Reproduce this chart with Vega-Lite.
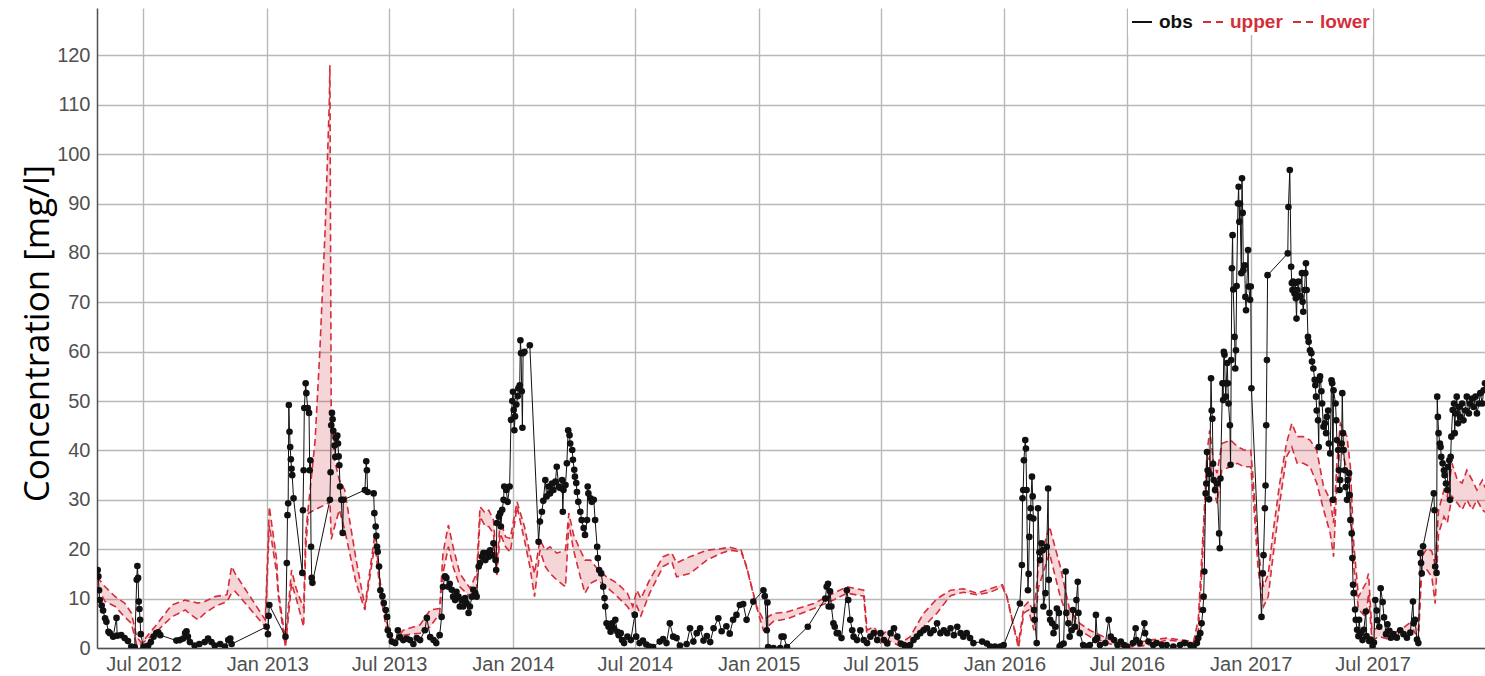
{
  "$schema": "https://vega.github.io/schema/vega-lite/v6.json",
  "width": 1388,
  "height": 640,
  "autosize": {"type": "none"},
  "padding": {"left": 97, "top": 8, "right": 0, "bottom": 28},
  "background": "white",
  "config": {"view": {"stroke": null}, "font": "Liberation Sans"},
  "datasets": {
    "obs": [
      {"date":"2012-04-24","obs":15.8},{"date":"2012-04-25","obs":14.5},{"date":"2012-04-26","obs":11.7},{"date":"2012-04-27","obs":9.7},{"date":"2012-04-30","obs":8.6},
      {"date":"2012-05-02","obs":7.6},{"date":"2012-05-05","obs":6},{"date":"2012-05-07","obs":5.3},{"date":"2012-05-10","obs":3.3},{"date":"2012-05-12","obs":3},
      {"date":"2012-05-17","obs":2.3},{"date":"2012-05-22","obs":6.1},{"date":"2012-05-23","obs":2.5},{"date":"2012-05-29","obs":2.6},{"date":"2012-06-03","obs":2},
      {"date":"2012-06-08","obs":1.4},{"date":"2012-06-13","obs":0.3},{"date":"2012-06-18","obs":0.2},{"date":"2012-06-21","obs":13.8},{"date":"2012-06-22","obs":16.6},
      {"date":"2012-06-23","obs":14.2},{"date":"2012-06-24","obs":9.4},{"date":"2012-06-25","obs":7.9},{"date":"2012-06-26","obs":5.7},{"date":"2012-06-27","obs":2.8},
      {"date":"2012-07-01","obs":0.2},{"date":"2012-07-04","obs":0.3},{"date":"2012-07-08","obs":0.5},{"date":"2012-07-12","obs":1.2},{"date":"2012-07-16","obs":2.3},
      {"date":"2012-07-20","obs":3},{"date":"2012-07-23","obs":3.2},{"date":"2012-07-26","obs":2.6},{"date":"2012-08-19","obs":1.5},{"date":"2012-08-24","obs":1.6},
      {"date":"2012-08-29","obs":1.9},{"date":"2012-09-01","obs":3},{"date":"2012-09-03","obs":3.4},{"date":"2012-09-05","obs":2.3},{"date":"2012-09-08","obs":1.2},
      {"date":"2012-09-15","obs":0.5},{"date":"2012-09-22","obs":0.8},{"date":"2012-09-30","obs":1.2},{"date":"2012-10-05","obs":1.9},{"date":"2012-10-10","obs":1.2},
      {"date":"2012-10-15","obs":0.5},{"date":"2012-10-23","obs":0.8},{"date":"2012-10-30","obs":0.3},{"date":"2012-11-04","obs":1.6},{"date":"2012-11-07","obs":1.9},
      {"date":"2012-11-09","obs":0.8},{"date":"2012-12-31","obs":4.3},{"date":"2013-01-02","obs":2.8},{"date":"2013-01-03","obs":6.5},{"date":"2013-01-04","obs":8.7},
      {"date":"2013-01-28","obs":2.3},{"date":"2013-01-30","obs":17.2},{"date":"2013-01-31","obs":26.9},{"date":"2013-02-01","obs":29.3},{"date":"2013-02-02","obs":49.2},
      {"date":"2013-02-03","obs":43.8},{"date":"2013-02-04","obs":40.7},{"date":"2013-02-05","obs":38.2},{"date":"2013-02-06","obs":36.3},{"date":"2013-02-07","obs":35},
      {"date":"2013-02-09","obs":30.3},{"date":"2013-02-22","obs":15.2},{"date":"2013-02-23","obs":27.9},{"date":"2013-02-24","obs":36},{"date":"2013-02-25","obs":48.6},
      {"date":"2013-02-27","obs":53.6},{"date":"2013-02-28","obs":51.6},{"date":"2013-03-02","obs":48.6},{"date":"2013-03-04","obs":47.6},{"date":"2013-03-05","obs":36},
      {"date":"2013-03-06","obs":38},{"date":"2013-03-07","obs":20.5},{"date":"2013-03-08","obs":14.2},{"date":"2013-03-09","obs":13.2},{"date":"2013-04-04","obs":30},
      {"date":"2013-04-05","obs":35.6},{"date":"2013-04-06","obs":45.1},{"date":"2013-04-07","obs":47.6},{"date":"2013-04-08","obs":46.3},{"date":"2013-04-09","obs":44},
      {"date":"2013-04-11","obs":41},{"date":"2013-04-12","obs":38.7},{"date":"2013-04-13","obs":42.5},{"date":"2013-04-15","obs":43},{"date":"2013-04-16","obs":41.4},
      {"date":"2013-04-17","obs":38.8},{"date":"2013-04-18","obs":37},{"date":"2013-04-19","obs":32.7},{"date":"2013-04-21","obs":30},{"date":"2013-04-23","obs":23.3},
      {"date":"2013-04-24","obs":30},{"date":"2013-05-26","obs":32},{"date":"2013-05-28","obs":37.8},{"date":"2013-05-29","obs":36},{"date":"2013-05-30","obs":31.6},
      {"date":"2013-06-08","obs":31.3},{"date":"2013-06-09","obs":27.3},{"date":"2013-06-11","obs":24.6},{"date":"2013-06-12","obs":22.7},{"date":"2013-06-13","obs":20.5},
      {"date":"2013-06-14","obs":19.5},{"date":"2013-06-16","obs":16.5},{"date":"2013-06-18","obs":11.7},{"date":"2013-06-21","obs":10.5},{"date":"2013-06-23","obs":9.1},
      {"date":"2013-06-26","obs":7.7},{"date":"2013-06-28","obs":6.3},{"date":"2013-06-29","obs":3.6},{"date":"2013-07-02","obs":2.6},{"date":"2013-07-05","obs":1.3},
      {"date":"2013-07-10","obs":1},{"date":"2013-07-14","obs":3.6},{"date":"2013-07-17","obs":2.2},{"date":"2013-07-22","obs":1.6},{"date":"2013-07-27","obs":1.9},
      {"date":"2013-08-01","obs":1.6},{"date":"2013-08-06","obs":0.8},{"date":"2013-08-11","obs":2},{"date":"2013-08-16","obs":1.6},{"date":"2013-08-23","obs":3.6},
      {"date":"2013-08-26","obs":6.1},{"date":"2013-08-31","obs":2.2},{"date":"2013-09-05","obs":1.6},{"date":"2013-09-09","obs":1},{"date":"2013-09-14","obs":2.6},
      {"date":"2013-09-17","obs":6.3},{"date":"2013-09-19","obs":12.4},{"date":"2013-09-22","obs":14.5},{"date":"2013-09-24","obs":14.2},{"date":"2013-09-27","obs":12.4},
      {"date":"2013-09-29","obs":13},{"date":"2013-10-02","obs":11.8},{"date":"2013-10-04","obs":10.4},{"date":"2013-10-07","obs":9.7},{"date":"2013-10-09","obs":11.4},
      {"date":"2013-10-12","obs":10.4},{"date":"2013-10-14","obs":8.4},{"date":"2013-10-17","obs":9.7},{"date":"2013-10-19","obs":8.4},{"date":"2013-10-22","obs":10.1},
      {"date":"2013-10-24","obs":9.1},{"date":"2013-10-27","obs":7.1},{"date":"2013-10-29","obs":8.4},{"date":"2013-11-01","obs":10.4},{"date":"2013-11-03","obs":11.8},
      {"date":"2013-11-06","obs":11.1},{"date":"2013-11-08","obs":10.4},{"date":"2013-11-11","obs":16.5},{"date":"2013-11-13","obs":17.2},{"date":"2013-11-16","obs":18.5},
      {"date":"2013-11-18","obs":19.2},{"date":"2013-11-21","obs":17.8},{"date":"2013-11-23","obs":19.2},{"date":"2013-11-26","obs":18.5},{"date":"2013-11-28","obs":19.8},
      {"date":"2013-12-01","obs":18.8},{"date":"2013-12-03","obs":21.2},{"date":"2013-12-06","obs":17.8},{"date":"2013-12-07","obs":15.8},{"date":"2013-12-08","obs":25.3},
      {"date":"2013-12-11","obs":26.6},{"date":"2013-12-13","obs":27.3},{"date":"2013-12-14","obs":24.6},{"date":"2013-12-16","obs":28},{"date":"2013-12-18","obs":30},
      {"date":"2013-12-19","obs":32.7},{"date":"2013-12-22","obs":32},{"date":"2013-12-24","obs":29.6},{"date":"2013-12-27","obs":32.7},{"date":"2013-12-29","obs":46.2},
      {"date":"2013-12-31","obs":50},{"date":"2014-01-01","obs":51.9},{"date":"2014-01-02","obs":48.2},{"date":"2014-01-03","obs":44.1},{"date":"2014-01-04","obs":46.9},
      {"date":"2014-01-06","obs":49.3},{"date":"2014-01-08","obs":51},{"date":"2014-01-09","obs":52.6},{"date":"2014-01-11","obs":53.2},{"date":"2014-01-12","obs":62.3},
      {"date":"2014-01-13","obs":59.7},{"date":"2014-01-14","obs":52},{"date":"2014-01-15","obs":44.6},{"date":"2014-01-16","obs":59.7},{"date":"2014-01-18","obs":60},
      {"date":"2014-01-26","obs":61.3},{"date":"2014-02-08","obs":21.5},{"date":"2014-02-10","obs":25.6},{"date":"2014-02-13","obs":27.6},{"date":"2014-02-15","obs":29.8},
      {"date":"2014-02-18","obs":34},{"date":"2014-02-20","obs":30.7},{"date":"2014-02-23","obs":32.7},{"date":"2014-02-25","obs":31.3},{"date":"2014-02-28","obs":33.3},
      {"date":"2014-03-02","obs":32},{"date":"2014-03-05","obs":33.7},{"date":"2014-03-07","obs":36.7},{"date":"2014-03-10","obs":32.7},{"date":"2014-03-12","obs":32.4},
      {"date":"2014-03-15","obs":34},{"date":"2014-03-16","obs":27.6},{"date":"2014-03-17","obs":32},{"date":"2014-03-20","obs":33},{"date":"2014-03-22","obs":37.4},
      {"date":"2014-03-24","obs":44.1},{"date":"2014-03-26","obs":43.1},{"date":"2014-03-27","obs":41.4},{"date":"2014-03-30","obs":40.1},{"date":"2014-03-31","obs":38.1},
      {"date":"2014-04-02","obs":36.1},{"date":"2014-04-03","obs":34.7},{"date":"2014-04-05","obs":33.4},{"date":"2014-04-06","obs":31.6},{"date":"2014-04-08","obs":29.6},
      {"date":"2014-04-11","obs":27.6},{"date":"2014-04-13","obs":25.9},{"date":"2014-04-16","obs":24.3},{"date":"2014-04-18","obs":22.9},{"date":"2014-04-21","obs":25.9},
      {"date":"2014-04-22","obs":32.7},{"date":"2014-04-23","obs":31.3},{"date":"2014-04-26","obs":30.3},{"date":"2014-04-28","obs":29.6},{"date":"2014-05-01","obs":30},
      {"date":"2014-05-03","obs":25.9},{"date":"2014-05-06","obs":20.5},{"date":"2014-05-07","obs":18.2},{"date":"2014-05-09","obs":15.8},{"date":"2014-05-12","obs":15.1},
      {"date":"2014-05-15","obs":12.4},{"date":"2014-05-17","obs":10.1},{"date":"2014-05-18","obs":8.4},{"date":"2014-05-20","obs":5},{"date":"2014-05-23","obs":4.3},
      {"date":"2014-05-26","obs":3.3},{"date":"2014-05-28","obs":5},{"date":"2014-05-31","obs":4},{"date":"2014-06-02","obs":5.7},{"date":"2014-06-05","obs":3.3},
      {"date":"2014-06-07","obs":2.6},{"date":"2014-06-10","obs":3},{"date":"2014-06-12","obs":1.6},{"date":"2014-06-15","obs":1},{"date":"2014-06-20","obs":2.3},
      {"date":"2014-06-25","obs":1.6},{"date":"2014-07-01","obs":6.7},{"date":"2014-07-03","obs":2.3},{"date":"2014-07-08","obs":1},{"date":"2014-07-13","obs":1.5},
      {"date":"2014-07-18","obs":0.7},{"date":"2014-07-23","obs":0.3},{"date":"2014-07-28","obs":0.2},{"date":"2014-08-07","obs":1.3},{"date":"2014-08-12","obs":1.8},
      {"date":"2014-08-17","obs":1},{"date":"2014-08-22","obs":5},{"date":"2014-08-27","obs":2.3},{"date":"2014-09-01","obs":2},{"date":"2014-09-06","obs":0.5},
      {"date":"2014-09-16","obs":0.8},{"date":"2014-09-21","obs":4},{"date":"2014-09-26","obs":1.3},{"date":"2014-10-01","obs":3},{"date":"2014-10-06","obs":4},
      {"date":"2014-10-11","obs":1.5},{"date":"2014-10-16","obs":2.4},{"date":"2014-10-21","obs":1.2},{"date":"2014-10-26","obs":4},{"date":"2014-11-02","obs":6},
      {"date":"2014-11-07","obs":3.4},{"date":"2014-11-14","obs":4.4},{"date":"2014-11-19","obs":2.9},{"date":"2014-11-24","obs":5.7},{"date":"2014-11-29","obs":6.7},
      {"date":"2014-12-04","obs":8.7},{"date":"2014-12-09","obs":8.9},{"date":"2014-12-14","obs":5.7},{"date":"2014-12-24","obs":9.4},{"date":"2015-01-08","obs":11.7},
      {"date":"2015-01-10","obs":10.5},{"date":"2015-01-13","obs":3.6},{"date":"2015-01-14","obs":9.2},{"date":"2015-01-15","obs":0.2},{"date":"2015-01-23","obs":0},
      {"date":"2015-02-02","obs":0},{"date":"2015-02-04","obs":2.3},{"date":"2015-02-07","obs":2.3},{"date":"2015-02-12","obs":0.2},{"date":"2015-03-15","obs":4.3},
      {"date":"2015-04-10","obs":10},{"date":"2015-04-12","obs":12.4},{"date":"2015-04-14","obs":13},{"date":"2015-04-15","obs":8.4},{"date":"2015-04-17","obs":11.5},
      {"date":"2015-04-19","obs":8.4},{"date":"2015-04-22","obs":5},{"date":"2015-04-24","obs":4.3},{"date":"2015-04-27","obs":3},{"date":"2015-04-29","obs":3},
      {"date":"2015-05-04","obs":2},{"date":"2015-05-12","obs":11.7},{"date":"2015-05-14","obs":9.7},{"date":"2015-05-17","obs":5.7},{"date":"2015-05-20","obs":3.6},
      {"date":"2015-05-22","obs":2.3},{"date":"2015-05-27","obs":1.6},{"date":"2015-06-01","obs":3.6},{"date":"2015-06-06","obs":1.6},{"date":"2015-06-11","obs":1},
      {"date":"2015-06-16","obs":2.3},{"date":"2015-06-21","obs":3},{"date":"2015-06-26","obs":1.6},{"date":"2015-07-01","obs":3},{"date":"2015-07-06","obs":1.6},
      {"date":"2015-07-11","obs":0.9},{"date":"2015-07-16","obs":3},{"date":"2015-07-21","obs":4},{"date":"2015-07-26","obs":2.3},{"date":"2015-07-31","obs":0.9},
      {"date":"2015-08-05","obs":0.6},{"date":"2015-08-09","obs":0.3},{"date":"2015-08-14","obs":0.6},{"date":"2015-08-19","obs":1.6},{"date":"2015-08-24","obs":2.3},
      {"date":"2015-08-29","obs":3},{"date":"2015-09-03","obs":3.6},{"date":"2015-09-08","obs":4},{"date":"2015-09-13","obs":3},{"date":"2015-09-18","obs":3.6},
      {"date":"2015-09-23","obs":5},{"date":"2015-09-28","obs":3},{"date":"2015-10-03","obs":3.6},{"date":"2015-10-08","obs":3},{"date":"2015-10-13","obs":4},
      {"date":"2015-10-18","obs":2.6},{"date":"2015-10-23","obs":4.3},{"date":"2015-10-28","obs":3},{"date":"2015-11-01","obs":2.3},{"date":"2015-11-06","obs":3},
      {"date":"2015-11-11","obs":2},{"date":"2015-11-16","obs":1},{"date":"2015-11-29","obs":1.3},{"date":"2015-12-06","obs":0.9},{"date":"2015-12-11","obs":0.3},
      {"date":"2015-12-18","obs":0.3},{"date":"2015-12-26","obs":0.3},{"date":"2015-12-31","obs":0.6},{"date":"2016-01-24","obs":9},{"date":"2016-01-27","obs":16.8},
      {"date":"2016-01-28","obs":30.3},{"date":"2016-01-29","obs":32},{"date":"2016-01-30","obs":38},{"date":"2016-02-01","obs":42.1},{"date":"2016-02-02","obs":40.4},
      {"date":"2016-02-03","obs":32},{"date":"2016-02-05","obs":11.7},{"date":"2016-02-06","obs":15},{"date":"2016-02-07","obs":22.5},{"date":"2016-02-08","obs":26.5},
      {"date":"2016-02-09","obs":28.3},{"date":"2016-02-11","obs":34.7},{"date":"2016-02-12","obs":30.7},{"date":"2016-02-13","obs":26.2},{"date":"2016-02-14","obs":7.7},
      {"date":"2016-02-15","obs":5.7},{"date":"2016-02-18","obs":1},{"date":"2016-02-20","obs":28.3},{"date":"2016-02-22","obs":19.4},{"date":"2016-02-23","obs":17.8},
      {"date":"2016-02-25","obs":21.2},{"date":"2016-02-27","obs":19.8},{"date":"2016-02-28","obs":8.4},{"date":"2016-03-02","obs":11.1},{"date":"2016-03-04","obs":20.5},
      {"date":"2016-03-06","obs":32.3},{"date":"2016-03-07","obs":13.8},{"date":"2016-03-08","obs":7.1},{"date":"2016-03-09","obs":5.7},{"date":"2016-03-12","obs":5},
      {"date":"2016-03-14","obs":3},{"date":"2016-03-17","obs":4.3},{"date":"2016-03-19","obs":8},{"date":"2016-03-22","obs":7.1},{"date":"2016-03-23","obs":0.3},
      {"date":"2016-03-25","obs":0.6},{"date":"2016-03-29","obs":0.9},{"date":"2016-04-01","obs":15.5},{"date":"2016-04-02","obs":7.1},{"date":"2016-04-05","obs":5},
      {"date":"2016-04-07","obs":2.3},{"date":"2016-04-10","obs":3.6},{"date":"2016-04-12","obs":7.7},{"date":"2016-04-15","obs":4.3},{"date":"2016-04-17","obs":9.7},
      {"date":"2016-04-19","obs":13.4},{"date":"2016-04-20","obs":7.1},{"date":"2016-04-22","obs":3},{"date":"2016-04-27","obs":0.6},{"date":"2016-05-02","obs":0.3},
      {"date":"2016-05-07","obs":0.6},{"date":"2016-05-15","obs":1.6},{"date":"2016-05-16","obs":6.7},{"date":"2016-05-18","obs":2},{"date":"2016-05-22","obs":0.6},
      {"date":"2016-05-30","obs":1},{"date":"2016-06-04","obs":5.7},{"date":"2016-06-07","obs":2.3},{"date":"2016-06-12","obs":1.6},{"date":"2016-06-17","obs":0.6},
      {"date":"2016-06-22","obs":1.3},{"date":"2016-06-27","obs":0.6},{"date":"2016-07-01","obs":0.3},{"date":"2016-07-10","obs":1},{"date":"2016-07-14","obs":4},
      {"date":"2016-07-15","obs":1.6},{"date":"2016-07-20","obs":1},{"date":"2016-07-27","obs":5},{"date":"2016-07-28","obs":3},{"date":"2016-08-02","obs":1.3},
      {"date":"2016-08-09","obs":0.6},{"date":"2016-08-14","obs":1},{"date":"2016-08-22","obs":0.6},{"date":"2016-08-29","obs":0.6},{"date":"2016-09-08","obs":0.3},
      {"date":"2016-09-18","obs":0.6},{"date":"2016-09-25","obs":1},{"date":"2016-10-03","obs":0.6},{"date":"2016-10-08","obs":0.3},{"date":"2016-10-13","obs":1},
      {"date":"2016-10-15","obs":2},{"date":"2016-10-18","obs":3},{"date":"2016-10-20","obs":5},{"date":"2016-10-22","obs":7.7},{"date":"2016-10-23","obs":10.4},
      {"date":"2016-10-24","obs":15.5},{"date":"2016-10-26","obs":31.3},{"date":"2016-10-27","obs":33.3},{"date":"2016-10-28","obs":39.7},{"date":"2016-10-29","obs":36},
      {"date":"2016-10-31","obs":30.1},{"date":"2016-11-01","obs":35.2},{"date":"2016-11-03","obs":54.6},{"date":"2016-11-04","obs":48.1},{"date":"2016-11-05","obs":46.4},
      {"date":"2016-11-06","obs":37.3},{"date":"2016-11-07","obs":34},{"date":"2016-11-09","obs":32},{"date":"2016-11-12","obs":33.3},{"date":"2016-11-15","obs":23.2},
      {"date":"2016-11-16","obs":20.2},{"date":"2016-11-17","obs":34.3},{"date":"2016-11-20","obs":53.6},{"date":"2016-11-21","obs":50.2},{"date":"2016-11-22","obs":60},
      {"date":"2016-11-23","obs":59.4},{"date":"2016-11-24","obs":53.6},{"date":"2016-11-25","obs":50.9},{"date":"2016-11-27","obs":57.7},{"date":"2016-11-28","obs":53.6},
      {"date":"2016-11-29","obs":49.5},{"date":"2016-12-01","obs":45.1},{"date":"2016-12-02","obs":37.1},{"date":"2016-12-03","obs":58.3},{"date":"2016-12-04","obs":76.9},
      {"date":"2016-12-05","obs":83.6},{"date":"2016-12-06","obs":72.6},{"date":"2016-12-08","obs":63},{"date":"2016-12-09","obs":56.6},{"date":"2016-12-10","obs":60.3},
      {"date":"2016-12-11","obs":73.3},{"date":"2016-12-13","obs":90},{"date":"2016-12-14","obs":93.4},{"date":"2016-12-15","obs":86.3},{"date":"2016-12-16","obs":90},
      {"date":"2016-12-18","obs":75.9},{"date":"2016-12-19","obs":95.1},{"date":"2016-12-20","obs":88.1},{"date":"2016-12-21","obs":76.5},{"date":"2016-12-23","obs":77.5},
      {"date":"2016-12-24","obs":71.1},{"date":"2016-12-25","obs":68.4},{"date":"2016-12-28","obs":80.6},{"date":"2016-12-29","obs":73.2},{"date":"2016-12-31","obs":70.5},
      {"date":"2017-01-01","obs":73.2},{"date":"2017-01-02","obs":52.6},{"date":"2017-01-17","obs":6.3},{"date":"2017-01-19","obs":15.1},{"date":"2017-01-20","obs":18.8},
      {"date":"2017-01-22","obs":28.3},{"date":"2017-01-23","obs":32.9},{"date":"2017-01-24","obs":45.1},{"date":"2017-01-25","obs":58.3},{"date":"2017-01-26","obs":75.5},
      {"date":"2017-02-25","obs":79.9},{"date":"2017-02-26","obs":89.3},{"date":"2017-02-28","obs":96.8},{"date":"2017-03-02","obs":77.2},{"date":"2017-03-03","obs":73.9},
      {"date":"2017-03-04","obs":72.5},{"date":"2017-03-05","obs":74.2},{"date":"2017-03-07","obs":71.8},{"date":"2017-03-08","obs":73.9},{"date":"2017-03-09","obs":70.8},
      {"date":"2017-03-10","obs":66.7},{"date":"2017-03-11","obs":72.5},{"date":"2017-03-13","obs":74.2},{"date":"2017-03-14","obs":71.2},{"date":"2017-03-16","obs":71.2},
      {"date":"2017-03-18","obs":75.9},{"date":"2017-03-19","obs":70.1},{"date":"2017-03-20","obs":68.1},{"date":"2017-03-22","obs":72.5},{"date":"2017-03-23","obs":75.9},
      {"date":"2017-03-24","obs":77.9},{"date":"2017-03-25","obs":72.5},{"date":"2017-03-27","obs":63},{"date":"2017-03-28","obs":62},{"date":"2017-03-30","obs":60.3},
      {"date":"2017-04-01","obs":59.7},{"date":"2017-04-02","obs":58},{"date":"2017-04-04","obs":56.6},{"date":"2017-04-06","obs":54.3},{"date":"2017-04-07","obs":53.2},
      {"date":"2017-04-08","obs":50.9},{"date":"2017-04-09","obs":48.1},{"date":"2017-04-11","obs":46.1},{"date":"2017-04-12","obs":40.7},{"date":"2017-04-13","obs":54.2},
      {"date":"2017-04-14","obs":55},{"date":"2017-04-16","obs":52},{"date":"2017-04-17","obs":49.5},{"date":"2017-04-19","obs":44.8},{"date":"2017-04-21","obs":45.5},
      {"date":"2017-04-23","obs":43.5},{"date":"2017-04-24","obs":46.8},{"date":"2017-04-26","obs":48.1},{"date":"2017-04-27","obs":41.4},{"date":"2017-04-29","obs":39.4},
      {"date":"2017-05-01","obs":54.2},{"date":"2017-05-02","obs":53.6},{"date":"2017-05-03","obs":30},{"date":"2017-05-04","obs":52.2},{"date":"2017-05-07","obs":49.5},
      {"date":"2017-05-08","obs":46.1},{"date":"2017-05-09","obs":42.1},{"date":"2017-05-11","obs":40.1},{"date":"2017-05-12","obs":36},{"date":"2017-05-13","obs":32},
      {"date":"2017-05-14","obs":34},{"date":"2017-05-16","obs":41.4},{"date":"2017-05-17","obs":51.6},{"date":"2017-05-18","obs":43.5},{"date":"2017-05-19","obs":40.1},
      {"date":"2017-05-21","obs":36},{"date":"2017-05-22","obs":32.6},{"date":"2017-05-24","obs":30},{"date":"2017-05-25","obs":34},{"date":"2017-05-27","obs":35.4},
      {"date":"2017-05-28","obs":31},{"date":"2017-05-29","obs":25.9},{"date":"2017-05-31","obs":23.2},{"date":"2017-06-01","obs":18.2},{"date":"2017-06-02","obs":12.8},
      {"date":"2017-06-03","obs":11.1},{"date":"2017-06-05","obs":7.8},{"date":"2017-06-06","obs":5.7},{"date":"2017-06-08","obs":3.7},{"date":"2017-06-10","obs":2.4},
      {"date":"2017-06-11","obs":5.7},{"date":"2017-06-13","obs":3},{"date":"2017-06-16","obs":1.6},{"date":"2017-06-18","obs":3.7},{"date":"2017-06-21","obs":7.4},
      {"date":"2017-06-22","obs":2.4},{"date":"2017-06-26","obs":1.4},{"date":"2017-06-28","obs":1.7},{"date":"2017-07-01","obs":0.4},{"date":"2017-07-03","obs":1.1},
      {"date":"2017-07-05","obs":9.7},{"date":"2017-07-07","obs":7.6},{"date":"2017-07-08","obs":5.6},{"date":"2017-07-11","obs":4.3},{"date":"2017-07-13","obs":12.1},
      {"date":"2017-07-16","obs":9.3},{"date":"2017-07-18","obs":6.2},{"date":"2017-07-21","obs":2.8},{"date":"2017-07-23","obs":4.8},{"date":"2017-07-26","obs":3.5},
      {"date":"2017-07-28","obs":2.1},{"date":"2017-08-01","obs":2.8},{"date":"2017-08-06","obs":2.1},{"date":"2017-08-11","obs":3.6},{"date":"2017-08-16","obs":2.8},
      {"date":"2017-08-21","obs":2.1},{"date":"2017-08-26","obs":3.1},{"date":"2017-08-30","obs":9.4},{"date":"2017-08-31","obs":5},{"date":"2017-09-02","obs":5.7},
      {"date":"2017-09-05","obs":1.7},{"date":"2017-09-07","obs":1},{"date":"2017-09-10","obs":19.2},{"date":"2017-09-11","obs":17.2},{"date":"2017-09-12","obs":15.1},
      {"date":"2017-09-14","obs":20.6},{"date":"2017-09-30","obs":31.3},{"date":"2017-10-01","obs":27.9},{"date":"2017-10-02","obs":16.5},{"date":"2017-10-04","obs":15.2},
      {"date":"2017-10-05","obs":50.9},{"date":"2017-10-06","obs":46.8},{"date":"2017-10-07","obs":43.5},{"date":"2017-10-09","obs":41.4},{"date":"2017-10-10","obs":40.7},
      {"date":"2017-10-11","obs":38.7},{"date":"2017-10-13","obs":37.4},{"date":"2017-10-15","obs":36},{"date":"2017-10-16","obs":35},{"date":"2017-10-18","obs":33.3},
      {"date":"2017-10-20","obs":32},{"date":"2017-10-21","obs":36.7},{"date":"2017-10-23","obs":38},{"date":"2017-10-24","obs":30},{"date":"2017-10-25","obs":38.7},
      {"date":"2017-10-26","obs":42.8},{"date":"2017-10-28","obs":48.2},{"date":"2017-10-30","obs":49.5},{"date":"2017-10-31","obs":43.5},{"date":"2017-11-01","obs":47.5},
      {"date":"2017-11-03","obs":50.9},{"date":"2017-11-05","obs":45.5},{"date":"2017-11-06","obs":48.8},{"date":"2017-11-08","obs":46.8},{"date":"2017-11-11","obs":49.5},
      {"date":"2017-11-13","obs":46.1},{"date":"2017-11-16","obs":48.1},{"date":"2017-11-18","obs":50.9},{"date":"2017-11-21","obs":47.5},{"date":"2017-11-23","obs":49.5},
      {"date":"2017-11-26","obs":50.5},{"date":"2017-11-28","obs":48.8},{"date":"2017-12-01","obs":50.9},{"date":"2017-12-03","obs":47.5},{"date":"2017-12-06","obs":49.5},
      {"date":"2017-12-08","obs":51.6},{"date":"2017-12-11","obs":49.5},{"date":"2017-12-13","obs":52.2},{"date":"2017-12-15","obs":53.6}
    ],
    "band": [
      {"date":"2012-04-23","upper":14.4,"lower":12.4},{"date":"2012-05-05","upper":12.4,"lower":9.4},{"date":"2012-05-20","upper":10.4,"lower":8.4},
      {"date":"2012-06-03","upper":9.1,"lower":6.3},{"date":"2012-06-13","upper":7.1,"lower":5},{"date":"2012-06-21","upper":2.3,"lower":0.6},
      {"date":"2012-06-28","upper":1,"lower":0.8},{"date":"2012-07-18","upper":4.3,"lower":3},{"date":"2012-08-12","upper":8.7,"lower":6.3},
      {"date":"2012-09-01","upper":9.7,"lower":7.7},{"date":"2012-09-10","upper":9.4,"lower":6.7},{"date":"2012-09-20","upper":9.1,"lower":5.7},
      {"date":"2012-09-30","upper":9.4,"lower":7},{"date":"2012-10-15","upper":10.4,"lower":8.4},{"date":"2012-11-02","upper":10.8,"lower":9.4},
      {"date":"2012-11-09","upper":16.5,"lower":11.1},{"date":"2012-11-14","upper":15.1,"lower":11.5},{"date":"2012-12-29","upper":5.7,"lower":4.3},
      {"date":"2013-01-04","upper":28.6,"lower":24.9},{"date":"2013-01-15","upper":17.8,"lower":15},{"date":"2013-01-17","upper":12,"lower":11},
      {"date":"2013-01-28","upper":1.5,"lower":0.1},{"date":"2013-02-06","upper":15.8,"lower":13.1},{"date":"2013-02-13","upper":12,"lower":10},
      {"date":"2013-02-24","upper":8,"lower":4.3},{"date":"2013-02-27","upper":23.2,"lower":20},{"date":"2013-03-03","upper":28.6,"lower":27.3},
      {"date":"2013-03-13","upper":42,"lower":28},{"date":"2013-03-20","upper":60,"lower":28.5},{"date":"2013-03-28","upper":85,"lower":29},
      {"date":"2013-04-03","upper":110,"lower":29.5},{"date":"2013-04-04","upper":118,"lower":30},{"date":"2013-04-06","upper":46,"lower":22},
      {"date":"2013-04-11","upper":38,"lower":24.6},{"date":"2013-04-18","upper":34,"lower":28},{"date":"2013-04-26","upper":32,"lower":23.9},
      {"date":"2013-05-13","upper":17.8,"lower":13.1},{"date":"2013-05-26","upper":8.4,"lower":7.7},{"date":"2013-06-10","upper":23.2,"lower":21.2},
      {"date":"2013-06-18","upper":13.1,"lower":11},{"date":"2013-06-28","upper":5,"lower":3},{"date":"2013-07-07","upper":1,"lower":0.8},
      {"date":"2013-07-22","upper":3.6,"lower":2.6},{"date":"2013-08-16","upper":4.7,"lower":3},{"date":"2013-08-31","upper":7.7,"lower":4.3},
      {"date":"2013-09-14","upper":8,"lower":7},{"date":"2013-09-19","upper":19.2,"lower":15.1},{"date":"2013-09-27","upper":24.9,"lower":20.5},
      {"date":"2013-10-04","upper":20.5,"lower":16.5},{"date":"2013-10-14","upper":15.1,"lower":12.4},{"date":"2013-10-29","upper":12.1,"lower":10.4},
      {"date":"2013-11-08","upper":15.1,"lower":12.4},{"date":"2013-11-13","upper":28.6,"lower":26.6},{"date":"2013-11-21","upper":27.3,"lower":24.6},
      {"date":"2013-11-26","upper":27.9,"lower":24.6},{"date":"2013-12-03","upper":25.9,"lower":23.2},{"date":"2013-12-08","upper":16.5,"lower":14.4},
      {"date":"2013-12-13","upper":25.9,"lower":23.2},{"date":"2013-12-21","upper":22.5,"lower":20.5},{"date":"2013-12-28","upper":22.2,"lower":19.4},
      {"date":"2014-01-07","upper":29.6,"lower":28.6},{"date":"2014-01-18","upper":24.6,"lower":21.9},{"date":"2014-01-26","upper":19.2,"lower":16.5},
      {"date":"2014-02-02","upper":15.1,"lower":10.4},{"date":"2014-02-10","upper":21.9,"lower":19.8},{"date":"2014-02-18","upper":19.8,"lower":16.5},
      {"date":"2014-02-25","upper":20.5,"lower":15.1},{"date":"2014-03-07","upper":19.2,"lower":13.8},{"date":"2014-03-20","upper":19.8,"lower":12.4},
      {"date":"2014-03-25","upper":27.3,"lower":25.2},{"date":"2014-04-01","upper":22.9,"lower":19.8},{"date":"2014-04-11","upper":19.8,"lower":14.4},
      {"date":"2014-04-18","upper":17.8,"lower":11.1},{"date":"2014-04-26","upper":17.8,"lower":13.1},{"date":"2014-05-06","upper":16.1,"lower":13.8},
      {"date":"2014-05-20","upper":14.4,"lower":12.4},{"date":"2014-06-05","upper":13.1,"lower":10.4},{"date":"2014-06-20","upper":11.1,"lower":8.4},
      {"date":"2014-06-28","upper":8.4,"lower":6.7},{"date":"2014-07-04","upper":11.7,"lower":8.5},{"date":"2014-07-10","upper":10,"lower":6.5},
      {"date":"2014-07-23","upper":13.8,"lower":11.1},{"date":"2014-08-12","upper":18.5,"lower":16.5},{"date":"2014-08-25","upper":19.2,"lower":17.5},
      {"date":"2014-09-01","upper":17.2,"lower":14.4},{"date":"2014-09-21","upper":18.5,"lower":15.1},{"date":"2014-10-16","upper":19.8,"lower":17.8},
      {"date":"2014-11-05","upper":20.1,"lower":19.1},{"date":"2014-11-19","upper":20.4,"lower":19.8},{"date":"2014-12-06","upper":19.8,"lower":19.5},
      {"date":"2014-12-14","upper":16.5,"lower":16.3},{"date":"2014-12-29","upper":8.4,"lower":8.2},{"date":"2015-01-08","upper":5.7,"lower":3.6},
      {"date":"2015-01-23","upper":7,"lower":5.4},{"date":"2015-02-12","upper":7.3,"lower":5.9},{"date":"2015-03-24","upper":9,"lower":8},
      {"date":"2015-04-22","upper":11.1,"lower":9.7},{"date":"2015-05-12","upper":12.4,"lower":11.1},{"date":"2015-06-06","upper":11.7,"lower":10.5},
      {"date":"2015-06-11","upper":3.6,"lower":2.3},{"date":"2015-06-21","upper":4.3,"lower":2.6},{"date":"2015-07-01","upper":2.3,"lower":1},
      {"date":"2015-07-11","upper":3.6,"lower":1.6},{"date":"2015-07-21","upper":2.3,"lower":1},{"date":"2015-07-31","upper":1,"lower":0.3},
      {"date":"2015-08-14","upper":2.3,"lower":1},{"date":"2015-09-03","upper":7,"lower":4.3},{"date":"2015-09-23","upper":10,"lower":7.1},
      {"date":"2015-10-13","upper":11.7,"lower":10.6},{"date":"2015-11-01","upper":12,"lower":11.3},{"date":"2015-11-21","upper":11.1,"lower":10.8},
      {"date":"2015-12-11","upper":12,"lower":11.3},{"date":"2015-12-29","upper":12.8,"lower":12.4},{"date":"2016-01-05","upper":10.4,"lower":10.2},
      {"date":"2016-01-15","upper":4.3,"lower":4.1},{"date":"2016-01-22","upper":1,"lower":0},{"date":"2016-01-30","upper":8.4,"lower":7.1},
      {"date":"2016-02-06","upper":9.4,"lower":7.7},{"date":"2016-02-14","upper":7.1,"lower":3.6},{"date":"2016-02-21","upper":17.2,"lower":12.4},
      {"date":"2016-03-08","upper":24.6,"lower":19.2},{"date":"2016-03-24","upper":16.5,"lower":10.4},{"date":"2016-04-07","upper":7.7,"lower":5},
      {"date":"2016-04-22","upper":5,"lower":3.6},{"date":"2016-05-07","upper":3.6,"lower":2.3},{"date":"2016-05-27","upper":2.3,"lower":1.3},
      {"date":"2016-06-17","upper":1,"lower":0.3},{"date":"2016-07-01","upper":0.4,"lower":0.2},{"date":"2016-07-15","upper":1,"lower":0.3},
      {"date":"2016-08-04","upper":1.6,"lower":0.6},{"date":"2016-08-29","upper":2,"lower":1.6},{"date":"2016-09-22","upper":1.6,"lower":1.3},
      {"date":"2016-10-08","upper":1.3,"lower":1},{"date":"2016-10-15","upper":5.7,"lower":3},{"date":"2016-10-23","upper":25.2,"lower":21.9},
      {"date":"2016-10-28","upper":39.4,"lower":37.4},{"date":"2016-11-01","upper":44.1,"lower":38.7},{"date":"2016-11-07","upper":37.4,"lower":32},
      {"date":"2016-11-12","upper":35.4,"lower":29.3},{"date":"2016-11-19","upper":41.4,"lower":36},{"date":"2016-12-02","upper":42.1,"lower":36.7},
      {"date":"2016-12-12","upper":40.8,"lower":37.4},{"date":"2016-12-22","upper":40.1,"lower":36.7},{"date":"2017-01-01","upper":40.1,"lower":36.7},
      {"date":"2017-01-05","upper":33.4,"lower":30},{"date":"2017-01-12","upper":19.8,"lower":15.8},{"date":"2017-01-20","upper":12.4,"lower":8.4},
      {"date":"2017-01-27","upper":15,"lower":10.4},{"date":"2017-02-03","upper":23.2,"lower":18.5},{"date":"2017-02-13","upper":33.3,"lower":29.3},
      {"date":"2017-02-23","upper":41.4,"lower":38.7},{"date":"2017-03-03","upper":45.5,"lower":40.7},{"date":"2017-03-11","upper":42.8,"lower":37.4},
      {"date":"2017-03-20","upper":42.8,"lower":37.4},{"date":"2017-03-30","upper":42.1,"lower":36.7},{"date":"2017-04-09","upper":40.1,"lower":33.4},
      {"date":"2017-04-19","upper":32.8,"lower":28.1},{"date":"2017-04-29","upper":30,"lower":23.3},{"date":"2017-05-04","upper":25.3,"lower":18.5},
      {"date":"2017-05-09","upper":37.4,"lower":33.4},{"date":"2017-05-14","upper":45.5,"lower":41.4},{"date":"2017-05-24","upper":42.8,"lower":36},
      {"date":"2017-05-29","upper":36.7,"lower":30},{"date":"2017-06-03","upper":21.2,"lower":16.5},{"date":"2017-06-10","upper":10.4,"lower":7.8},
      {"date":"2017-06-21","upper":13.1,"lower":6.3},{"date":"2017-06-25","upper":15.1,"lower":11},{"date":"2017-06-30","upper":3.6,"lower":1.6},
      {"date":"2017-07-12","upper":4.3,"lower":2.3},{"date":"2017-07-28","upper":2.9,"lower":1.6},{"date":"2017-08-11","upper":3.6,"lower":2.3},
      {"date":"2017-08-31","upper":5.7,"lower":3.6},{"date":"2017-09-07","upper":3.6,"lower":1.6},{"date":"2017-09-12","upper":18.5,"lower":15.8},
      {"date":"2017-09-20","upper":20.2,"lower":15.8},{"date":"2017-09-27","upper":19.6,"lower":14.4},{"date":"2017-10-02","upper":16.8,"lower":9},
      {"date":"2017-10-07","upper":27.9,"lower":23.2},{"date":"2017-10-15","upper":32,"lower":26.6},{"date":"2017-10-20","upper":30.7,"lower":25.3},
      {"date":"2017-10-27","upper":37.4,"lower":30.7},{"date":"2017-11-04","upper":34,"lower":29.3},{"date":"2017-11-11","upper":33.4,"lower":28},
      {"date":"2017-11-18","upper":36,"lower":30},{"date":"2017-11-26","upper":34,"lower":28},{"date":"2017-12-03","upper":32,"lower":30},
      {"date":"2017-12-11","upper":34,"lower":28},{"date":"2017-12-15","upper":32.5,"lower":27.5}
    ]
  },
  "encoding": {
    "x": {
      "field": "date",
      "type": "temporal",
      "title": null,
      "scale": {
        "type": "utc",
        "domain": [{"year": 2012, "month": 4, "date": 23, "utc": true}, {"year": 2017, "month": 12, "date": 15, "utc": true}]
      },
      "axis": {
        "values": [
          {"year": 2012, "month": 7, "date": 1, "utc": true}, {"year": 2013, "month": 1, "date": 1, "utc": true},
          {"year": 2013, "month": 7, "date": 1, "utc": true}, {"year": 2014, "month": 1, "date": 1, "utc": true},
          {"year": 2014, "month": 7, "date": 1, "utc": true}, {"year": 2015, "month": 1, "date": 1, "utc": true},
          {"year": 2015, "month": 7, "date": 1, "utc": true}, {"year": 2016, "month": 1, "date": 1, "utc": true},
          {"year": 2016, "month": 7, "date": 1, "utc": true}, {"year": 2017, "month": 1, "date": 1, "utc": true},
          {"year": 2017, "month": 7, "date": 1, "utc": true}
        ],
        "labelExpr": "utcFormat(datum.value, '%b %Y')",
        "labelFont": "Liberation Sans",
        "labelFontSize": 20,
        "labelColor": "#505050",
        "labelPadding": 6,
        "labelOverlap": false,
        "ticks": false,
        "grid": true,
        "gridColor": "#b8b8b8",
        "gridWidth": 1.4,
        "domainColor": "#505050",
        "domainWidth": 1.5
      }
    }
  },
  "layer": [
    {
      "data": {"name": "band"},
      "mark": {"type": "area", "color": "#d42e3b", "opacity": 0.2, "clip": true},
      "encoding": {
        "y": {
          "field": "upper",
          "type": "quantitative",
          "title": "Concentration [mg/l]",
          "scale": {"domain": [0, 129.6], "nice": false},
          "axis": {
            "values": [0, 10, 20, 30, 40, 50, 60, 70, 80, 90, 100, 110, 120],
            "labelFont": "Liberation Sans",
            "labelFontSize": 20,
            "labelColor": "#505050",
            "labelPadding": 7,
            "ticks": false,
            "grid": true,
            "gridColor": "#b8b8b8",
            "gridWidth": 1.4,
            "domainColor": "#505050",
            "domainWidth": 1.5,
            "titleFont": "Open Sans",
            "titleFontSize": 35,
            "titleFontWeight": "normal",
            "titleColor": "#000000",
            "titleAngle": -90,
            "titleAlign": "center",
            "titleBaseline": "middle",
            "titleX": -60,
            "titleY": 325
          }
        },
        "y2": {"field": "lower"}
      }
    },
    {
      "data": {"name": "band"},
      "transform": [{"fold": ["upper", "lower"], "as": ["series", "value"]}],
      "mark": {"type": "line", "strokeWidth": 1.6, "strokeDash": [7, 4], "clip": true},
      "encoding": {
        "y": {"field": "value", "type": "quantitative", "title": "Concentration [mg/l]"},
        "color": {"field": "series", "type": "nominal"}
      }
    },
    {
      "data": {"name": "obs"},
      "transform": [{"fold": ["obs"], "as": ["series", "value"]}],
      "mark": {"type": "line", "strokeWidth": 1, "clip": true, "point": {"filled": true, "size": 44, "clip": true}},
      "encoding": {
        "y": {"field": "value", "type": "quantitative", "title": "Concentration [mg/l]"},
        "color": {
          "field": "series",
          "type": "nominal",
          "scale": {"domain": ["obs", "upper", "lower"], "range": ["#111111", "#d42e3b", "#d42e3b"]},
          "legend": {
            "orient": "none",
            "legendX": 1031,
            "legendY": 0,
            "direction": "horizontal",
            "title": null,
            "symbolType": "stroke",
            "symbolSize": 400,
            "symbolStrokeWidth": 2,
            "labelFont": "Liberation Sans",
            "labelFontSize": 19,
            "labelFontWeight": "bold",
            "labelOffset": 6,
            "columnPadding": 6,
            "padding": 3,
            "fillColor": "white",
            "encode": {
              "symbols": {"update": {"strokeDash": {"signal": "datum.value === 'obs' ? [1, 0] : [8, 5]"}}},
              "labels": {"update": {"fill": {"signal": "datum.value === 'obs' ? '#111111' : '#d42e3b'"}}}
            }
          }
        }
      }
    }
  ]
}
